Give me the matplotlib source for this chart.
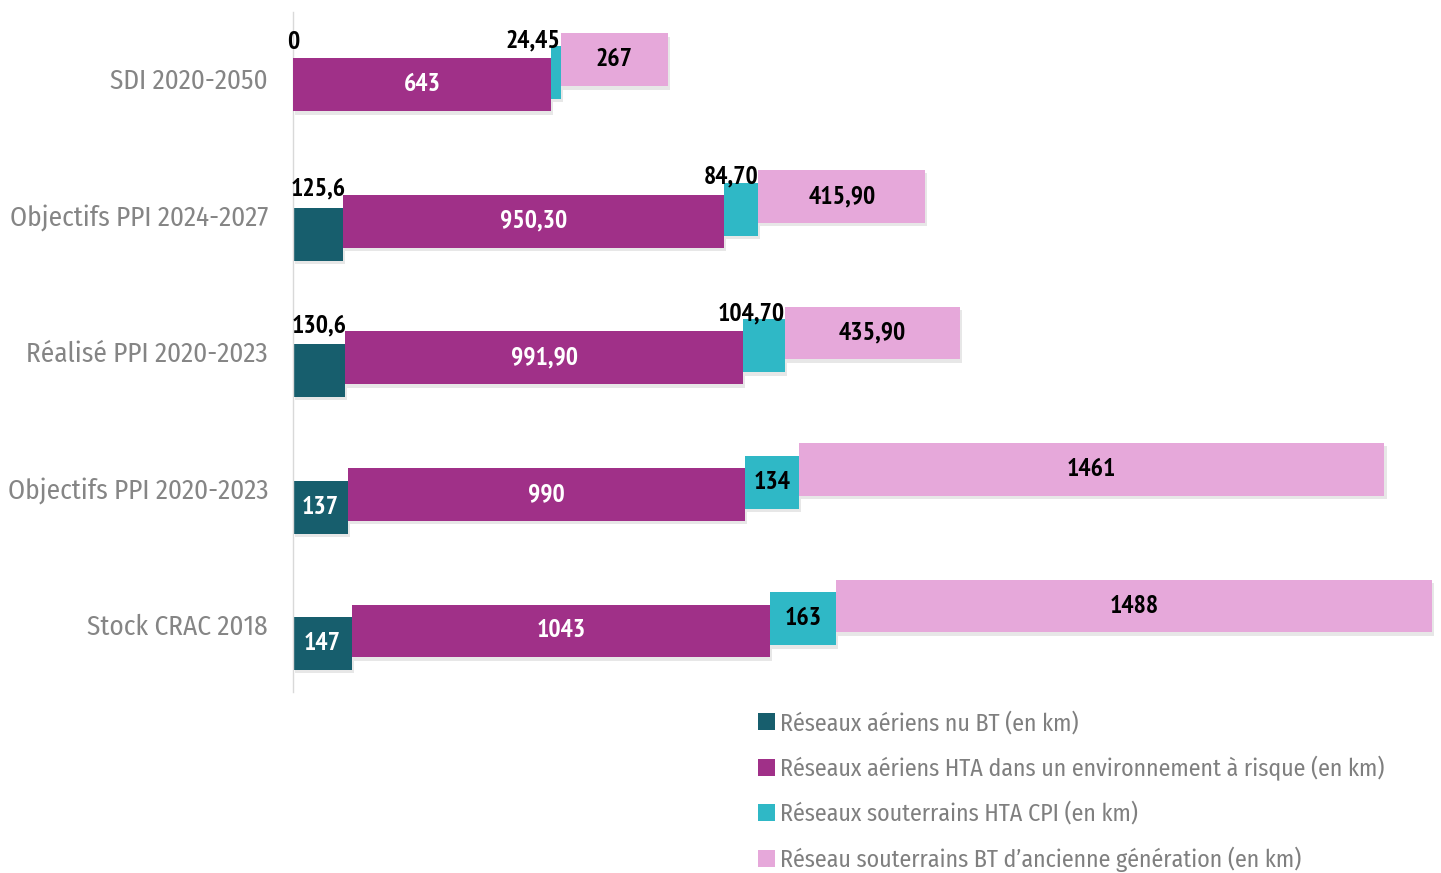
import matplotlib
matplotlib.use("Agg")
import matplotlib.pyplot as plt
import matplotlib.patheffects as pe
from matplotlib import font_manager as fm
from matplotlib.patches import Patch
import numpy as np

# Data (top row first)
categories = ['SDI 2020-2050', 'Objectifs PPI 2024-2027', 'Réalisé PPI 2020-2023',
              'Objectifs PPI 2020-2023', 'Stock CRAC 2018']

aerien_bt = [0, 125.6, 130.6, 137, 147]
aerien_hta = [643, 950.30, 991.90, 990, 1043]
sout_hta = [24.45, 84.70, 104.70, 134, 163]
sout_bt = [267, 415.90, 435.90, 1461, 1488]

lab_aerien_bt = ['0', '125,6', '130,6', '137', '147']
lab_aerien_hta = ['643', '950,30', '991,90', '990', '1043']
lab_sout_hta = ['24,45', '84,70', '104,70', '134', '163']
lab_sout_bt = ['267', '415,90', '435,90', '1461', '1488']

series_names = ['Réseaux aériens nu BT (en km)',
                'Réseaux aériens HTA dans un environnement à risque (en km)',
                'Réseaux souterrains HTA CPI (en km)',
                'Réseau souterrains BT d\u2019ancienne génération (en km)']

colors = ['#175e6d', '#a03088', '#2fb8c6', '#e6a8da']
inside_text = ['white', 'white', 'black', 'black']


def pick_font(candidates, weight='normal'):
    for name in candidates:
        try:
            path = fm.findfont(fm.FontProperties(family=name, weight=weight),
                               fallback_to_default=False)
            if fm.FontProperties(fname=path).get_name() == name:
                return name
        except Exception:
            pass
    return 'DejaVu Sans'


TEXT_FONT = pick_font(['Fira Sans Condensed', 'Encode Sans Semi Condensed',
                       'Roboto Condensed', 'Archivo Narrow', 'Open Sans'])
VALUE_FONT = pick_font(['PT Sans Narrow', 'Roboto Condensed', 'Fira Sans Condensed',
                        'Archivo Narrow'], weight='bold')
plt.rcParams['font.family'] = [TEXT_FONT, 'DejaVu Sans']

fig = plt.figure(figsize=(14.41, 8.73), dpi=100)
ax = fig.add_axes([293 / 1441, 1 - 692 / 873, 1 - 293 / 1441, 680 / 873])
renderer = fig.canvas.get_renderer()


def fit_size(text, target_px, base=18, **kw):
    t = fig.text(0, 0, text, fontsize=base, **kw)
    w = t.get_window_extent(renderer).width
    t.remove()
    return base * target_px / w


cat_size = fit_size('Objectifs PPI 2024-2027', 258)
leg_size = fit_size(series_names[1], 606)

values = [aerien_bt, aerien_hta, sout_hta, sout_bt]
labels = [lab_aerien_bt, lab_aerien_hta, lab_sout_hta, lab_sout_bt]

y = np.arange(len(categories))
bar_h = 0.388
# each series drawn a little higher than the previous one (pseudo depth)
offsets = [0.143, 0.051, -0.040, -0.132]

shadow = [pe.SimplePatchShadow(offset=(1.5, -2.5), shadow_rgbFace='#888888', alpha=0.2),
          pe.Normal()]

left = np.zeros(len(categories))
bars = []
for i, vals in enumerate(values):
    b = ax.barh(y + offsets[i], vals, height=bar_h, left=left, color=colors[i],
                label=series_names[i], zorder=2 + i)
    for r in b:
        r.set_path_effects(shadow)
    bars.append(b)
    left = left + np.array(vals)

ax.set_xlim(0, 2863)
ax.set_ylim(4.498, -0.4835)

ax.set_yticks(y)
ax.set_yticklabels(categories, fontsize=cat_size, color='#858585')
ax.tick_params(axis='y', length=0, pad=18)
ax.tick_params(axis='x', bottom=False, labelbottom=False)
for s in ['top', 'right', 'bottom']:
    ax.spines[s].set_visible(False)
ax.spines['left'].set_color('#d9d9d9')
ax.spines['left'].set_linewidth(1)

fig.canvas.draw()

# data labels
vsize = 18.5
for i, b in enumerate(bars):
    for j, r in enumerate(b):
        x0 = r.get_x()
        w = r.get_width()
        yc = r.get_y() + r.get_height() / 2
        ytop = r.get_y()
        t = ax.text(x0 + w / 2, yc, labels[i][j], ha='center', va='center',
                    fontsize=vsize, fontweight='bold', color=inside_text[i], zorder=10,
                    family=VALUE_FONT)
        tw = t.get_window_extent(renderer).width
        bw = ax.transData.transform((x0 + w, 0))[0] - ax.transData.transform((x0, 0))[0]
        if tw > bw - 4:
            t.remove()
            if i == 0:
                dy = 22 if w == 0 else 12
                ax.annotate(labels[i][j], (x0 + w / 2, ytop), xytext=(0, dy * 0.72),
                            textcoords='offset points', ha='center', va='baseline',
                            fontsize=vsize, fontweight='bold', color='black', zorder=10,
                            family=VALUE_FONT)
            else:
                ax.annotate(labels[i][j], (x0 + w, ytop), xytext=(0, -1),
                            textcoords='offset points', ha='right', va='baseline',
                            fontsize=vsize, fontweight='bold', color='black', zorder=10,
                            family=VALUE_FONT)

# legend rows about 45 px apart
fs_px = leg_size * 100 / 72
spacing = 1.1 - 5.5 / fs_px
handles = [Patch(facecolor=c, edgecolor='none') for c in colors]
fig.legend(handles, series_names, loc='upper left',
           bbox_to_anchor=(758 / 1441, 1 - 711 / 873), frameon=False,
           fontsize=leg_size, labelcolor='#7f7f7f', handlelength=0.7, handleheight=0.7,
           handletextpad=0.2, labelspacing=spacing, borderpad=0, borderaxespad=0)

fig.savefig('out.png', dpi=100)
